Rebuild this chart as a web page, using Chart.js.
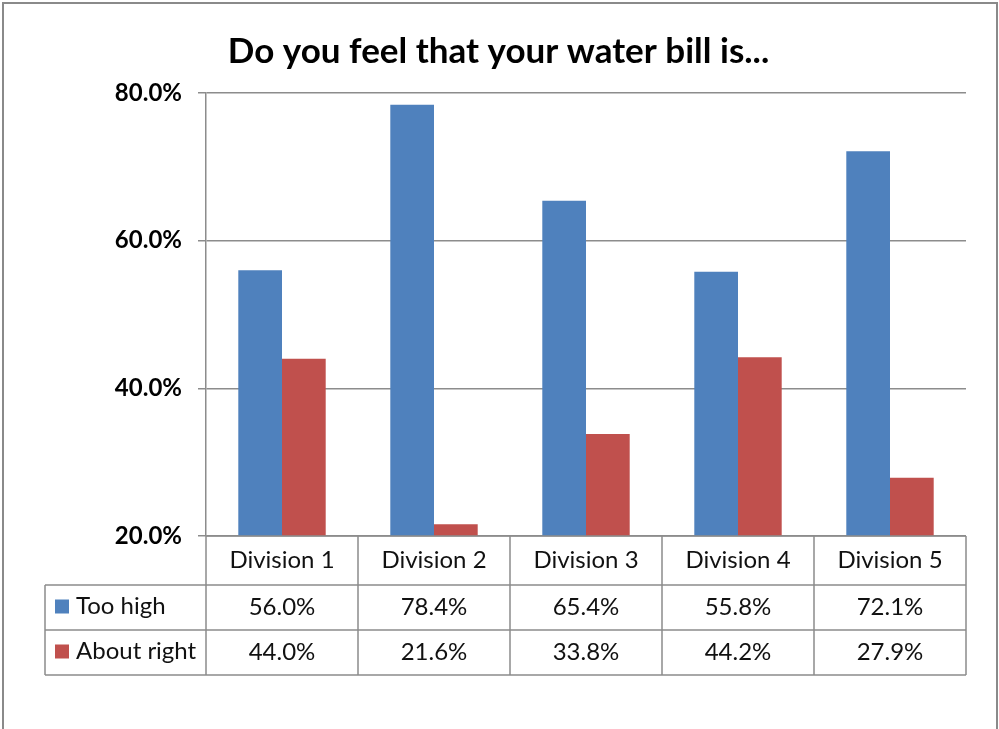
<!DOCTYPE html>
<html>
<head>
<meta charset="utf-8">
<title>Water bill survey</title>
<script src="https://cdn.jsdelivr.net/npm/chart.js@4/dist/chart.umd.min.js"></script>
<style>
  html, body { margin: 0; padding: 0; background: #fff; }
  #chart { display: block; }
</style>
</head>
<body>
<canvas id="chart" width="999" height="729"></canvas>
<script>
  // Survey answers per division (percent)
  const divisions = ['Division 1', 'Division 2', 'Division 3', 'Division 4', 'Division 5'];
  const tooHigh = [56.0, 78.4, 65.4, 55.8, 72.1];
  const aboutRight = [44.0, 21.6, 33.8, 44.2, 27.9];
  const seriesNames = ['Too high', 'About right'];
  const seriesColors = ['#4F81BD', '#C0504D'];
  const yMin = 20, yMax = 80, yStep = 20;

  const FONT = 'Lato, "Liberation Sans", sans-serif';
  const LINE = '#8c8c8c';
  const fmt = v => v.toFixed(1) + '%';

  // Page background + outer frame
  const frame = {
    id: 'frame',
    beforeDraw(chart) {
      const c = chart.ctx;
      c.save();
      c.fillStyle = '#fff';
      c.fillRect(0, 0, chart.width, chart.height);
      c.restore();
    },
    afterDraw(chart) {
      const c = chart.ctx;
      c.save();
      c.strokeStyle = '#8a8a8a';
      c.lineWidth = 2;
      c.strokeRect(3, 3, chart.width - 5, chart.height + 10);
      c.restore();
    }
  };

  // Data table under the plot, columns follow the x scale
  const dataTable = {
    id: 'dataTable',
    afterDraw(chart) {
      const c = chart.ctx;
      const x = chart.scales.x;
      const area = chart.chartArea;
      const colW = (area.right - area.left) / divisions.length;
      const rows = [area.bottom, area.bottom + 49, area.bottom + 94, area.bottom + 139];
      const tableLeft = 45;

      c.save();
      c.strokeStyle = LINE;
      c.lineWidth = 1.5;
      c.beginPath();
      // horizontal rules
      c.moveTo(area.left, rows[0]); c.lineTo(area.right, rows[0]);
      for (let r = 1; r < rows.length; r++) {
        c.moveTo(tableLeft, rows[r]); c.lineTo(area.right, rows[r]);
      }
      // vertical rules
      c.moveTo(tableLeft, rows[1]); c.lineTo(tableLeft, rows[3]);
      c.moveTo(area.left, rows[0]); c.lineTo(area.left, rows[3]);
      divisions.forEach((d, i) => {
        const xr = x.getPixelForValue(i) + colW / 2;
        c.moveTo(xr, rows[0]); c.lineTo(xr, rows[3]);
      });
      c.stroke();

      c.fillStyle = '#111';
      c.font = '24px ' + FONT;
      c.textBaseline = 'middle';
      c.textAlign = 'center';
      divisions.forEach((d, i) => {
        const cx = x.getPixelForValue(i);
        c.fillText(d, cx, (rows[0] + rows[1]) / 2);
      });
      chart.data.datasets.forEach((ds, k) => {
        const cy = (rows[k + 1] + rows[k + 2]) / 2;
        ds.data.forEach((v, i) => {
          c.textAlign = 'center';
          c.fillText(fmt(v), x.getPixelForValue(i), cy);
        });
        // legend key + series name
        c.fillStyle = ds.backgroundColor;
        c.fillRect(55, cy - 8, 14, 14);
        c.fillStyle = '#111';
        c.textAlign = 'left';
        c.fillText(ds.label, 76, cy - 1);
      });
      c.restore();
    }
  };

  new Chart(document.getElementById('chart'), {
    type: 'bar',
    data: {
      labels: divisions,
      datasets: [
        { label: seriesNames[0], data: tooHigh, backgroundColor: seriesColors[0] },
        { label: seriesNames[1], data: aboutRight, backgroundColor: seriesColors[1] }
      ]
    },
    options: {
      responsive: false,
      animation: false,
      layout: { padding: { left: 31, right: 33, top: 0, bottom: 193 } },
      datasets: { bar: { categoryPercentage: 0.575, barPercentage: 1.0 } },
      plugins: {
        legend: { display: false },
        tooltip: { enabled: false },
        title: {
          display: true,
          text: 'Do you feel that your water bill is...',
          color: '#000',
          font: { family: FONT, size: 35, weight: 'bold', lineHeight: 1.2 },
          padding: { top: 31, bottom: 20 }
        }
      },
      scales: {
        x: { display: false },
        y: {
          min: yMin,
          max: yMax,
          afterFit(scale) { scale.width = 175; },
          ticks: {
            stepSize: yStep,
            padding: 16,
            color: '#000',
            font: { family: FONT, size: 24, weight: 'bold' },
            callback: v => fmt(v)
          },
          grid: { color: LINE, lineWidth: 1.5, drawTicks: true, tickLength: 8 },
          border: { display: true, color: LINE, width: 1.5 }
        }
      }
    },
    plugins: [frame, dataTable]
  });
</script>
</body>
</html>
